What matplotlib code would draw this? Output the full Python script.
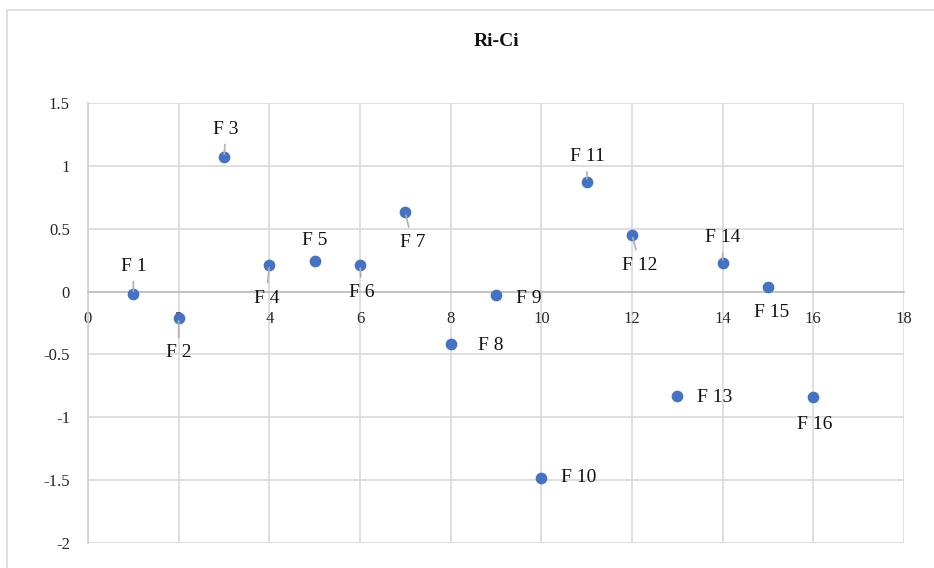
import matplotlib.pyplot as plt
from matplotlib.patches import Rectangle

# data
x_vals = [1, 2, 3, 4, 5, 6, 7, 8, 9, 10, 11, 12, 13, 14, 15, 16]
y_vals = [-0.02, -0.21, 1.07, 0.21, 0.24, 0.21, 0.63, -0.42, -0.03, -1.48,
          0.875, 0.45, -0.83, 0.23, 0.04, -0.84]
labels = ["F %d" % i for i in x_vals]

x_ticks = [0, 2, 4, 6, 8, 10, 12, 14, 16, 18]
y_ticks = [-2, -1.5, -1, -0.5, 0, 0.5, 1, 1.5]
y_tick_labels = ["-2", "-1.5", "-1", "-0.5", "0", "0.5", "1", "1.5"]

# label placement (offset in pixels, leader line yes/no)
offsets = [(0, 28, True), (0, -35, True), (2, 28, True), (-3, -33, True),
           (0, 21, False), (2, -27, True), (7, -30, True), (40, -1, False),
           (33, -3, False), (37, 0, False), (1, 25, True), (8, -30, True),
           (37, -2, False), (0, 25, True), (4, -26, False), (1, -27, False)]

serif = ["Liberation Serif", "DejaVu Serif"]
grid_c = "#d9d9d9"

fig = plt.figure(figsize=(9.34, 5.68), dpi=100)
fig.patches.append(Rectangle((7 / 934, -0.1), 1.1, 1 - 10 / 568 + 0.1,
                             transform=fig.transFigure, fill=False,
                             edgecolor=grid_c, linewidth=1.2))
ax = fig.add_axes([88 / 934, 1 - 543 / 568, (904 - 88) / 934, (543 - 103) / 568])

ax.scatter(x_vals, y_vals, s=55, color="#4472C4", zorder=3)

for xv, yv, lab, (dx, dy, lead) in zip(x_vals, y_vals, labels, offsets):
    kw = {}
    if lead:
        kw["arrowprops"] = dict(arrowstyle="-", color="#b0b0b0", lw=1.2,
                                shrinkA=3, shrinkB=2)
    ax.annotate(lab, (xv, yv), xytext=(dx, dy), textcoords="offset pixels",
                ha="center", va="center", fontsize=14, family=serif,
                color="#111111", zorder=4, **kw)

ax.set_xlim(0, 18)
ax.set_ylim(-2, 1.5)
ax.set_xticks(x_ticks)
ax.set_yticks(y_ticks)
ax.set_yticklabels(y_tick_labels)
ax.grid(True, color=grid_c, linewidth=1.2)
ax.set_axisbelow(True)

for s in ["top", "right"]:
    ax.spines[s].set_visible(False)
ax.spines["bottom"].set_position(("data", 0))
ax.spines["bottom"].set_color("#bfbfbf")
ax.spines["bottom"].set_linewidth(1.2)
ax.spines["left"].set_color("#d0d0d0")
ax.spines["left"].set_linewidth(1.2)
ax.tick_params(length=0, labelsize=12, colors="#262626")
ax.tick_params(axis="x", pad=14)
ax.tick_params(axis="y", pad=13)
for t in ax.get_xticklabels() + ax.get_yticklabels():
    t.set_family(serif)

fig.text(496 / 934, 1 - 42 / 568, "Ri-Ci", ha="center", va="center",
         fontsize=14, fontweight="bold", family=serif, color="#111111")

fig.savefig("out.png", dpi=100)
